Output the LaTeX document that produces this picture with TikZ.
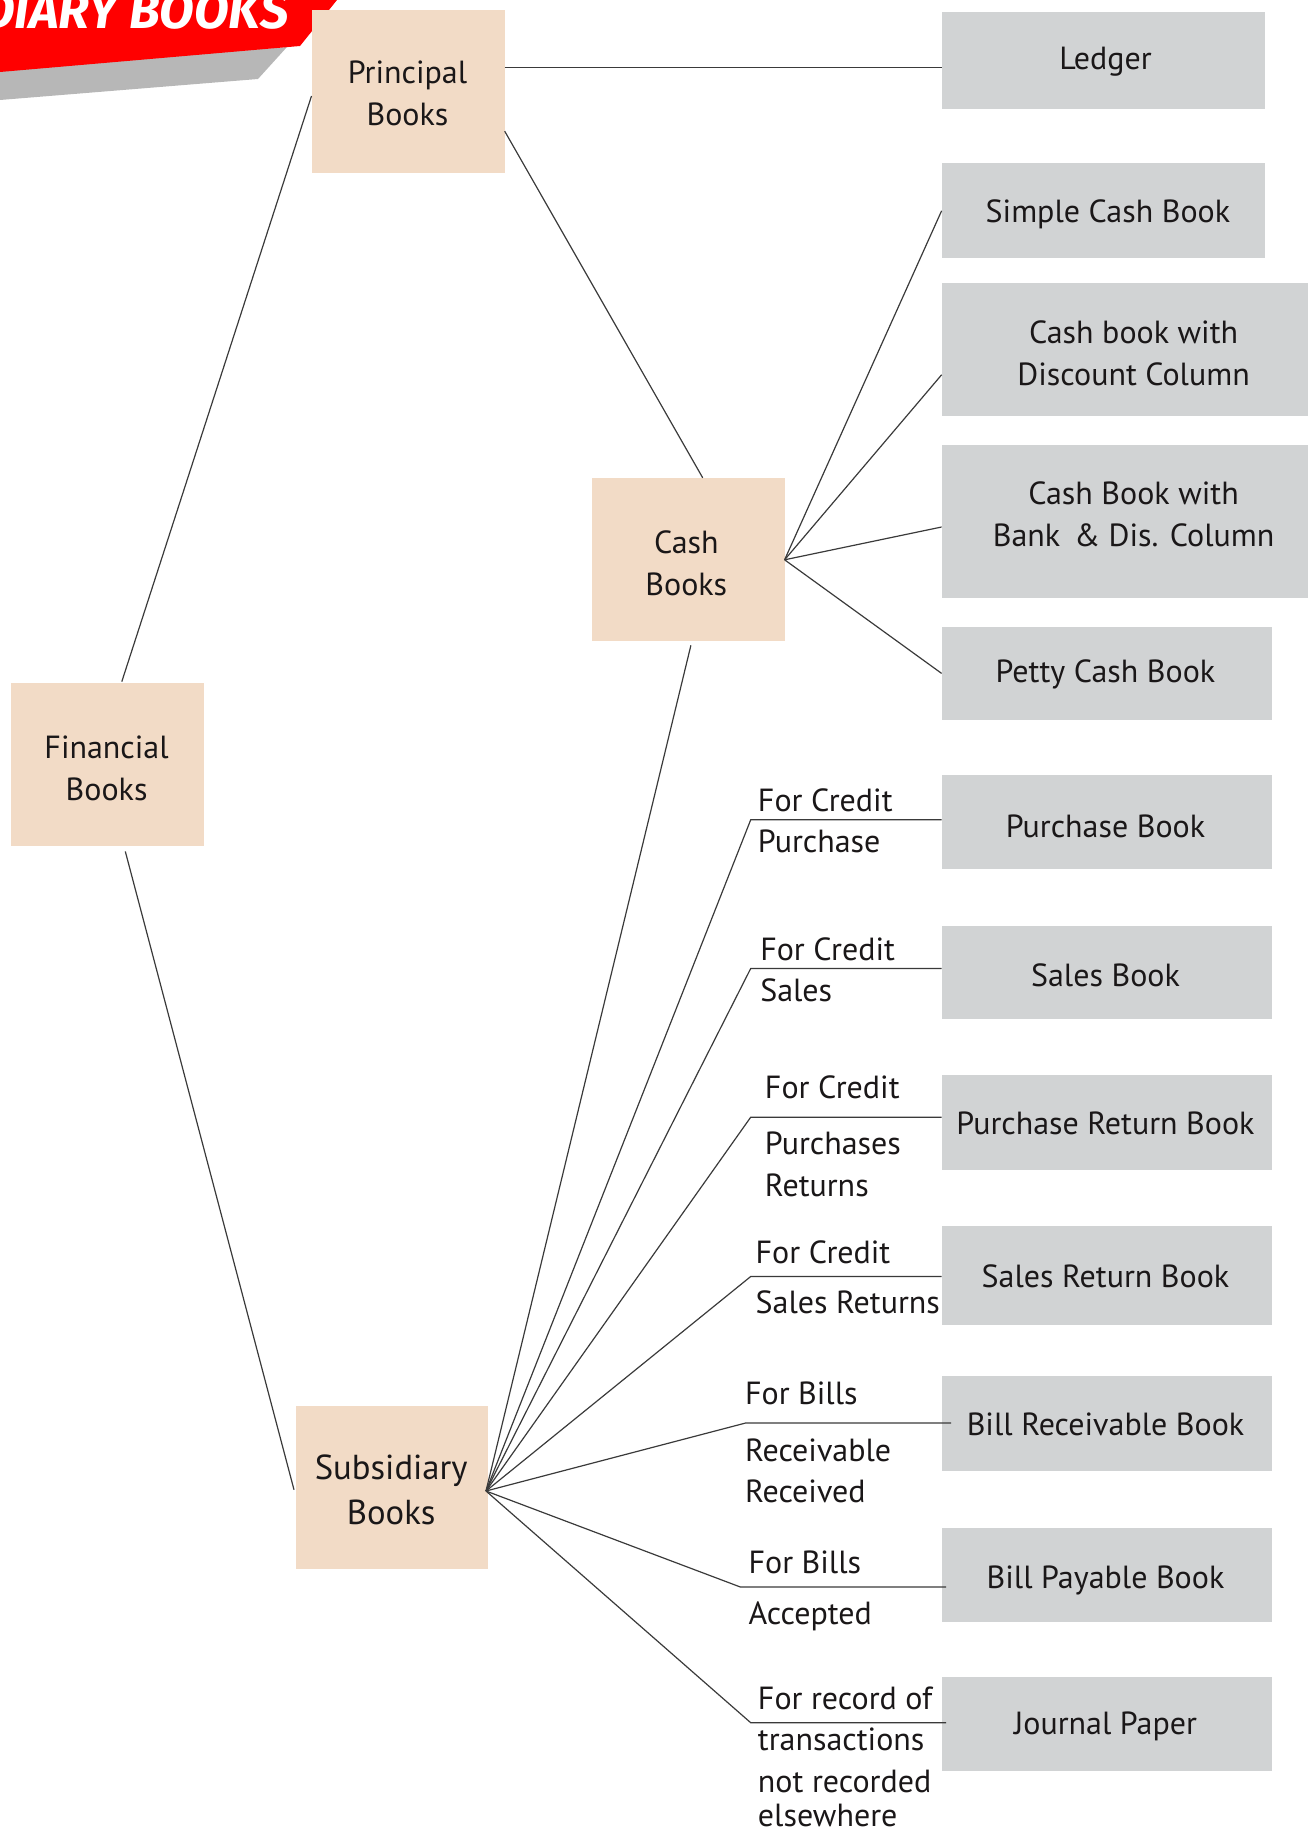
\documentclass[tikz,border=0pt]{standalone}
\usepackage{fontspec}
\setmainfont{PT Sans}
\newfontfamily\bannerfont{Fira Sans}
\definecolor{peach}{HTML}{F2DBC6}
\definecolor{boxgray}{HTML}{D1D3D4}
\definecolor{ink}{HTML}{1A1718}
\definecolor{wire}{HTML}{3A3A3A}
\definecolor{shadowgray}{HTML}{B7B7B7}
\def\u{0.75pt}
\begin{document}
\begin{tikzpicture}[x=0.75pt,y=-0.75pt,
  pbox/.style={draw=none,fill=peach,inner sep=0pt,minimum width={193*\u},minimum height={163*\u}},
  gbox/.style={draw=none,fill=boxgray,inner sep=0pt},
  btxt/.style={text=ink,align=center,inner sep=0pt,font=\fontsize{24}{31.5}\selectfont},
  lbl/.style={text=ink,anchor=west,inner sep=0pt,text height=0.7em,text depth=0.15em,font=\fontsize{24}{31.5}\selectfont},
  wire/.style={draw=wire,line width=0.9pt}]
\useasboundingbox (0,0) rectangle (1314,1837);
\clip (0,0) rectangle (1314,1837);

% banner
\fill[shadowgray] (0,70) -- (287,47) -- (258,79) -- (0,100) -- cycle;
\fill[red] (-5,-5) -- (341,-5) -- (300,46) -- (0,72) -- (-5,72) -- cycle;
\node[anchor=base west,inner sep=0pt,text=white,font=\bannerfont\bfseries\itshape\fontsize{38}{44}\selectfont] (banner) at (-18,29) {DIARY BOOKS};

% peach boxes
\node[pbox] (prin) at (408.1,91.9) {};
\node[pbox] (cash) at (688,559.8) {};
\node[pbox] (fin) at (107.2,764.7) {};
\node[pbox,minimum width={192*\u}] (sub) at (392.3,1487.9) {};

% gray boxes
\node[gbox,minimum width={323.2*\u},minimum height={97.2*\u}] (ledger) at (1103.2,60.3) {};
\node[gbox,minimum width={323.2*\u},minimum height={94.8*\u}] (scb) at (1103.2,210.2) {};
\node[gbox,minimum width={366.4*\u},minimum height={132.3*\u}] (disc) at (1124.8,349.6) {};
\node[gbox,minimum width={366.4*\u},minimum height={153.4*\u}] (bank) at (1124.8,521.7) {};
\node[gbox,minimum width={330.2*\u},minimum height={93.7*\u}] (petty) at (1106.7,673.4) {};
\node[gbox,minimum width={330.2*\u},minimum height={93.7*\u}] (pb) at (1106.7,822.2) {};
\node[gbox,minimum width={330.2*\u},minimum height={92.6*\u}] (sb) at (1106.7,972.6) {};
\node[gbox,minimum width={330.2*\u},minimum height={94.8*\u}] (prb) at (1106.7,1122.5) {};
\node[gbox,minimum width={330.2*\u},minimum height={98.4*\u}] (srb) at (1106.7,1275.3) {};
\node[gbox,minimum width={330.2*\u},minimum height={94.8*\u}] (brb) at (1106.7,1423.5) {};
\node[gbox,minimum width={330.2*\u},minimum height={93.7*\u}] (bpb) at (1106.7,1575.2) {};
\node[gbox,minimum width={330.2*\u},minimum height={93.7*\u}] (jp) at (1106.7,1723.9) {};

% box texts
\node[btxt] (prinT) at (407.5,93.7) {Principal\\Books};
\node[btxt] (cashT) at (686.3,563.3) {Cash\\Books};
\node[btxt] (finT) at (106.6,768.2) {Financial\\Books};
\node[btxt,font=\fontsize{26}{34}\selectfont] (subT) at (391.2,1489.6) {Subsidiary\\Books};
\node[btxt] (ledgerT) at (1105.5,62.1) {Ledger};
\node[btxt] (scbT) at (1107.9,214.3) {Simple Cash Book};
\node[btxt] (discT) at (1133.6,353.7) {Cash book with\\Discount Column};
\node[btxt] (bankT) at (1133.6,514.1) {Cash Book with\\Bank \,\& Dis. Column};
\node[btxt] (pettyT) at (1105.5,674.5) {Petty Cash Book};
\node[btxt] (pbT) at (1105.5,826) {Purchase Book};
\node[btxt] (sbT) at (1105.5,975.2) {Sales Book};
\node[btxt] (prbT) at (1105.5,1123.2) {Purchase Return Book};
\node[btxt] (srbT) at (1105.5,1276.7) {Sales Return Book};
\node[btxt] (brbT) at (1105.5,1424.2) {Bill Receivable Book};
\node[btxt] (bpbT) at (1105.5,1580.5) {Bill Payable Book};
\node[btxt] (jpT) at (1105.5,1726.2) {Journal Paper};

% connector points
\coordinate (prinE) at (504.7,67.9);
\coordinate (ledgerW) at (941.6,67.9);
\coordinate (prinSE) at (504.7,131.2);
\coordinate (cashN) at (702.7,477.8);
\coordinate (finN) at (121.8,681.6);
\coordinate (prinW) at (311.5,96);
\coordinate (finS) at (125.3,851.4);
\coordinate (subW) at (294,1489.7);
\coordinate (cashS) at (690.9,645.3);
\coordinate (subE) at (486,1491);
\coordinate (cashE) at (784.6,559.8);
\coordinate (scbW) at (941.6,210.8);
\coordinate (discW) at (941.6,374.8);
\coordinate (bankW) at (941.6,527);
\coordinate (pettyW) at (941.6,673.4);
\coordinate (c1) at (750.7,819.8);   \coordinate (e1) at (941.6,819.8);
\coordinate (c2) at (750.7,968.5);   \coordinate (e2) at (941.6,968.5);
\coordinate (c3) at (750.7,1117.2);  \coordinate (e3) at (941.6,1117.2);
\coordinate (c4) at (750.7,1276.5);  \coordinate (e4) at (941.6,1276.5);
\coordinate (c5) at (746,1422.9);    \coordinate (e5) at (951,1422.9);
\coordinate (c6) at (740.1,1586.9);  \coordinate (e6) at (946,1586.9);
\coordinate (c7) at (750.7,1722.7);  \coordinate (e7) at (946,1722.7);

% connectors
\draw[wire] (prinE) -- (ledgerW);
\draw[wire] (prinSE) -- (cashN);
\draw[wire] (finN) -- (prinW);
\draw[wire] (finS) -- (subW);
\draw[wire] (cashS) -- (subE);
\foreach \t in {scbW,discW,bankW,pettyW}
  \draw[wire] (cashE) -- (\t);
\foreach \i in {1,...,7}
  \draw[wire] (subE) -- (c\i) -- (e\i);

% labels
\node[lbl] (l1a) at (757.7,807.9) {For Credit};
\node[lbl] (l1b) at (757.7,848.8) {Purchase};
\node[lbl] (l2a) at (760,956.6) {For Credit};
\node[lbl] (l2b) at (760,997.6) {Sales};
\node[lbl] (l3a) at (764.7,1094.8) {For Credit};
\node[lbl] (l3b) at (764.7,1151) {Purchases};
\node[lbl] (l3c) at (764.7,1193.2) {Returns};
\node[lbl] (l4a) at (755.4,1259.9) {For Credit};
\node[lbl] (l4b) at (755.4,1310.3) {Sales Returns};
\node[lbl] (l5a) at (744.8,1400.4) {For Bills};
\node[lbl] (l5b) at (744.8,1457.8) {Receivable};
\node[lbl] (l5c) at (744.8,1498.8) {Received};
\node[lbl] (l6a) at (748.3,1570.3) {For Bills};
\node[lbl] (l6b) at (748.3,1620.6) {Accepted};
\node[lbl] (l7a) at (757.7,1706.1) {For record of};
\node[lbl] (l7b) at (757.7,1747.1) {transactions};
\node[lbl] (l7c) at (757.7,1789.3) {not recorded};
\node[lbl,text depth=0pt] (l7d) at (757.7,1822) {elsewhere};
\end{tikzpicture}
\end{document}
